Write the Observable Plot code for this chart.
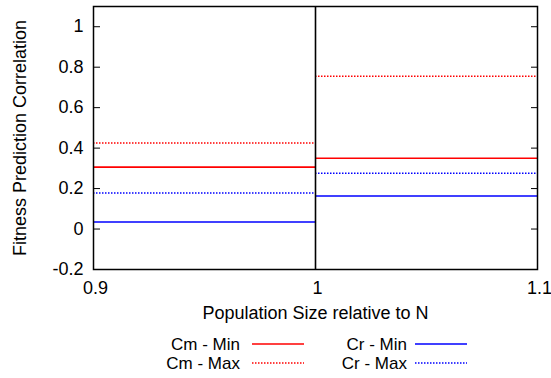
<!DOCTYPE html>
<html>
<head>
<meta charset="utf-8">
<script src="https://cdn.jsdelivr.net/npm/d3@7"></script>
<script src="https://cdn.jsdelivr.net/npm/@observablehq/plot@0.6"></script>
<style>
  body { margin: 0; background: #fff; }
  #chart { width: 551px; height: 378px; font-family: "Liberation Sans", Arial, sans-serif; }
  #chart svg { display: block; }
</style>
</head>
<body>
<div id="chart"></div>
<script>
// Tick positions
const xTicks = [0.9, 1, 1.1];
const yTicks = [-0.2, 0, 0.2, 0.4, 0.6, 0.8, 1];

// Population-size intervals (below / above N)
const xBins = [[0.9, 1], [1, 1.1]];

// Correlation per interval for each series
const seriesNames = ["Cm - Min", "Cm - Max", "Cr - Min", "Cr - Max"];
const cmMin = [0.306, 0.35];
const cmMax = [0.425, 0.755];
const crMin = [0.035, 0.163];
const crMax = [0.178, 0.276];

const seriesStyle = {
  "Cm - Min": {color: "#ff0000", dash: null},
  "Cm - Max": {color: "#ff0000", dash: "1.5,1.5"},
  "Cr - Min": {color: "#0000ff", dash: null},
  "Cr - Max": {color: "#0000ff", dash: "1.5,1.5"}
};

const values = {"Cm - Min": cmMin, "Cm - Max": cmMax, "Cr - Min": crMin, "Cr - Max": crMax};
const segments = seriesNames.flatMap(name =>
  xBins.map(([x1, x2], i) => ({name, x1, x2, y: values[name][i]}))
);

const fmt = d => (d === 0 || d === 1) ? String(d) : d.toFixed(1);

const segMarks = seriesNames.map(name => Plot.ruleY(segments.filter(s => s.name === name), {
  x1: "x1", x2: "x2", y: "y",
  stroke: seriesStyle[name].color,
  strokeWidth: 1.6,
  strokeDasharray: seriesStyle[name].dash
}));

const plot = Plot.plot({
  width: 551,
  height: 330,
  marginLeft: 93,
  marginRight: 14,
  marginTop: 6,
  marginBottom: 61,
  style: {fontFamily: "'Liberation Sans', Arial, sans-serif", fontSize: "18px", color: "black", background: "white"},
  x: {domain: [0.9, 1.1]},
  y: {domain: [-0.2, 1.1]},
  marks: [
    ...segMarks,
    Plot.ruleX([1], {stroke: "black", strokeWidth: 1.6}),
    Plot.axisY({ticks: yTicks, tickSize: 0, tickPadding: 10, tickFormat: fmt, label: null}),
    Plot.axisY({ticks: yTicks, tickSize: -7, tickFormat: () => "", label: null}),
    Plot.axisY({anchor: "right", ticks: yTicks, tickSize: -7, tickFormat: () => "", label: null}),
    Plot.axisX({ticks: xTicks, tickSize: 0, tickPadding: 12, dx: 2, tickFormat: fmt, label: null}),
    Plot.frame({stroke: "black", strokeWidth: 1.5}),
    Plot.text(["Population Size relative to N"], {frameAnchor: "bottom", dy: 49, text: d => d, fill: "black"}),
    Plot.text(["Fitness Prediction Correlation"], {frameAnchor: "left", dx: -73, rotate: -90, textAnchor: "middle", text: d => d, fill: "black"})
  ]
});
document.getElementById("chart").appendChild(plot);

// Legend: two columns, two rows, label on the left and line sample on the right
const legend = d3.select("#chart").append("svg")
  .attr("width", 551).attr("height", 48)
  .style("font-family", "'Liberation Sans', Arial, sans-serif")
  .style("font-size", "17px");

const cols = [{textEnd: 240, lineX1: 252, lineX2: 304}, {textEnd: 407, lineX1: 415, lineX2: 467}];
const rows = [14, 33];
seriesNames.forEach((name, i) => {
  const col = cols[Math.floor(i / 2)];
  const row = rows[i % 2];
  legend.append("text")
    .attr("x", col.textEnd).attr("y", row)
    .attr("dy", "0.36em")
    .attr("text-anchor", "end")
    .attr("fill", "black")
    .text(name);
  legend.append("line")
    .attr("x1", col.lineX1).attr("x2", col.lineX2)
    .attr("y1", row).attr("y2", row)
    .attr("stroke", seriesStyle[name].color)
    .attr("stroke-width", 1.6)
    .attr("stroke-dasharray", seriesStyle[name].dash);
});
</script>
</body>
</html>
